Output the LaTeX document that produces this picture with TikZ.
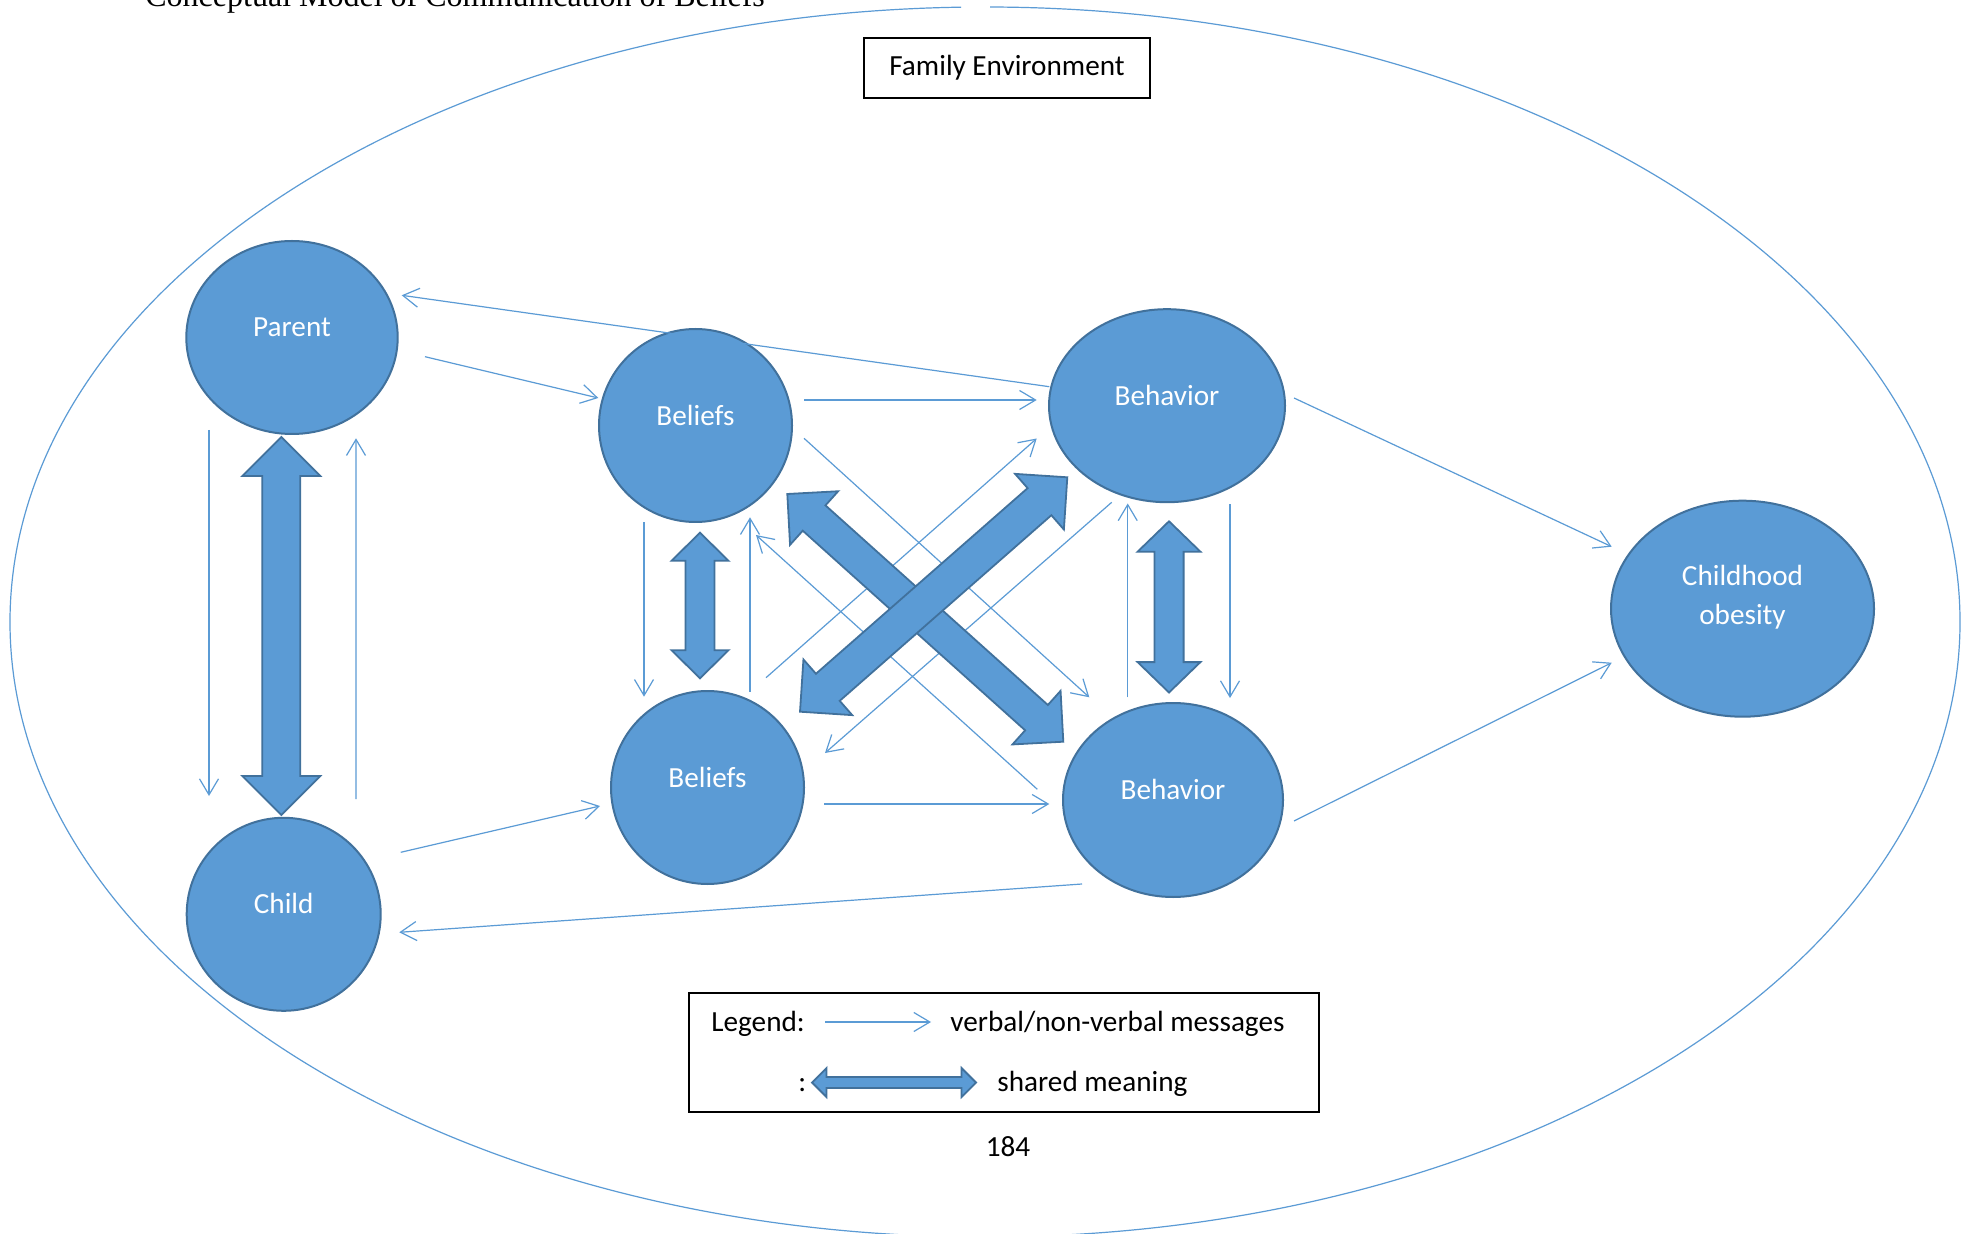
\documentclass[tikz,border=0pt]{standalone}
\usepackage{fontspec}
\setmainfont{Carlito}
\newfontfamily\ttlfont{Liberation Serif}
\usetikzlibrary{shapes.geometric,arrows.meta,calc}
\definecolor{obl}{HTML}{5B9BD5}
\definecolor{obd}{HTML}{41719C}
\newcommand\mysz{\fontsize{14.6pt}{19.5pt}\selectfont}
% #1 prefix, #2 tip P, #3 tip Q, #4 half shaft, #5 half head, #6 head length
\newcommand\dblarr[6]{%
  \coordinate (#1p) at #2;
  \coordinate (#1q) at #3;
  \coordinate (#1b) at ($(#1p)!#6!(#1q)$);
  \coordinate (#1c) at ($(#1q)!#6!(#1p)$);
  \draw[blk] (#1p) -- ($(#1b)!#5!90:(#1q)$) -- ($(#1b)!#4!90:(#1q)$)
    -- ($(#1c)!#4!-90:(#1p)$) -- ($(#1c)!#5!-90:(#1p)$) -- (#1q)
    -- ($(#1c)!#5!90:(#1p)$) -- ($(#1c)!#4!90:(#1p)$)
    -- ($(#1b)!#4!-90:(#1q)$) -- ($(#1b)!#5!-90:(#1q)$) -- cycle;}
\begin{document}
\begin{tikzpicture}[x=0.5pt,y=-0.5pt,
  bub/.style={ellipse, draw=obd, fill=obl, line width=1pt, inner sep=0pt},
  lbl/.style={text=white, font=\mysz, align=center, inner sep=0pt},
  txt/.style={text=black, font=\mysz, inner sep=0pt},
  msg/.style={draw=obl, line width=0.6pt, -{Straight Barb[length=8pt,width=9.5pt]}},
  blk/.style={fill=obl, draw=obd, line width=0.9pt, line join=miter},
  envline/.style={draw=obl, line width=0.6pt}]
\useasboundingbox (0,0) rectangle (1973,1234);
\fill[white] (0,0) rectangle (1973,1234);

% environment ellipse with a small gap at the top
\begin{scope}
  \clip (0,0) rectangle (961,1234) (990,0) rectangle (1973,1234) (961,20) rectangle (990,1234);
  \draw[envline] (985,622) ellipse [x radius=487.5pt, y radius=307.5pt];
\end{scope}

% title (cut off at top)
\node[anchor=base west, inner sep=0pt, font=\ttlfont\fontsize{16pt}{19pt}\selectfont] (title) at (145,6.5) {Conceptual Model of Communication of Beliefs};

% family environment box
\node[draw=black, line width=1pt, minimum width=143pt, minimum height=30pt, inner sep=0pt, font=\mysz] (fam) at (1007,68) {Family Environment};

% bubbles
\node[bub, minimum width=105.7pt, minimum height=96.5pt] (parent) at (292,337.5) {};
\node[bub, minimum width=96.5pt, minimum height=96.5pt] (bel1) at (695.5,425.5) {};
\node[bub, minimum width=118pt, minimum height=96.5pt] (beh1) at (1167,405.7) {};
\node[bub, minimum width=110pt, minimum height=97pt] (beh2) at (1173,800) {};
\node[bub, minimum width=96.5pt, minimum height=96.5pt] (bel2) at (707.5,787.5) {};
\node[bub, minimum width=97pt, minimum height=96.5pt] (child) at (283.7,914.3) {};
\node[bub, minimum width=131.5pt, minimum height=108pt] (obes) at (1742.5,608.7) {};

\node[lbl] (tparent) at ($(parent)+(0,-10)$) {Parent};
\node[lbl] (tbel1) at ($(bel1)+(0,-10)$) {Beliefs};
\node[lbl] (tbeh1) at ($(beh1)+(0,-10)$) {Behavior};
\node[lbl] (tbeh2) at ($(beh2)+(0,-11)$) {Behavior};
\node[lbl] (tbel2) at ($(bel2)+(0,-10)$) {Beliefs};
\node[lbl] (tchild) at ($(child)+(0,-11)$) {Child};
\node[lbl] (tobes) at ($(obes)+(0,-11)$) {Childhood\\obesity};

% verbal / non-verbal messages
\draw[msg] ($(beh1)+(-117.7,-19)$) -- ($(parent)+(109.7,-42.2)$);
\draw[msg] ($(parent)+(133,19.2)$) -- ($(bel1)+(-97.2,-27.5)$);
\draw[msg] ($(parent)+(-83,92.5)$) -- ($(child)+(-74.7,-118.3)$);
\draw[msg] ($(child)+(72.3,-115.3)$) -- ($(parent)+(64,100.8)$);
\draw[msg] ($(child)+(117,-62)$) -- ($(bel2)+(-107.5,18.5)$);
\draw[msg] ($(beh2)+(-91,84)$) -- ($(child)+(115.6,18)$);
\draw[msg] ($(bel1)+(108.5,-25.5)$) -- ($(beh1)+(-130.3,-5.7)$);
\draw[msg] ($(bel1)+(108.5,12.8)$) -- ($(beh2)+(-83.7,-102.7)$);
\draw[msg] ($(bel2)+(58.5,-109.8)$) -- ($(beh1)+(-130.3,32.8)$);
\draw[msg] ($(beh1)+(-55.3,96.6)$) -- ($(bel2)+(117.5,-34.5)$);
\draw[msg] ($(beh2)+(-135.7,-10.7)$) -- ($(bel1)+(60.5,109.5)$);
\draw[msg] ($(bel1)+(-51.5,96.8)$) -- ($(bel2)+(-63.5,-90.8)$);
\draw[msg] ($(bel2)+(42.5,-95.8)$) -- ($(bel1)+(54.5,91.8)$);
\draw[msg] ($(bel2)+(116.8,16.5)$) -- ($(beh2)+(-123.7,4)$);
\draw[msg] ($(beh2)+(-45.3,-102.7)$) -- ($(beh1)+(-39.3,97.8)$);
\draw[msg] ($(beh1)+(63,98.6)$) -- ($(beh2)+(57,-102)$);
\draw[msg] ($(beh1)+(127,-7.7)$) -- ($(obes)+(-130.8,-62)$);
\draw[msg] ($(beh2)+(121,21)$) -- ($(obes)+(-130.8,54)$);

% shared meaning block arrows
\dblarr{pc}{($(parent)+(-10.7,99.5)$)}{($(child)+(-2.4,-99.3)$)}{9.5pt}{19.5pt}{19.5pt}
\dblarr{bb}{($(bel1)+(4.5,107.2)$)}{($(bel2)+(-7.5,-109.2)$)}{7.25pt}{14.2pt}{14pt}
\dblarr{hh}{($(beh1)+(2,115.6)$)}{($(beh2)+(-4,-107.5)$)}{7.3pt}{15.7pt}{15.2pt}
\dblarr{da}{($(bel1)+(91.8,68.5)$)}{($(beh2)+(-109.7,-58.3)$)}{8.5pt}{18pt}{18pt}
\dblarr{db}{($(bel2)+(92.5,-75.8)$)}{($(beh1)+(-99.7,71.6)$)}{9pt}{18.5pt}{18.5pt}

% legend
\node[draw=black, line width=1pt, minimum width=315pt, minimum height=59.5pt, inner sep=0pt] (legend) at (1004,1052.5) {};
\node[txt, anchor=base west] (lgt1) at (711,1031.7) {Legend:};
\draw[msg] ($(legend)+(-179,-30.5)$) -- ($(legend)+(-73,-30.5)$);
\node[txt, anchor=base west] (lgt2) at (950,1031.7) {verbal/non-verbal messages};
\node[txt, anchor=base west] (lgt3) at (798,1091.7) {:};
\dblarr{lg}{($(legend)+(-192,30)$)}{($(legend)+(-28,30)$)}{2.75pt}{7.25pt}{7.25pt}
\node[txt, anchor=base west] (lgt4) at (997,1091.7) {shared meaning};

% page number
\node[txt, anchor=base] (pnum) at (1008,1156) {184};
\end{tikzpicture}
\end{document}
